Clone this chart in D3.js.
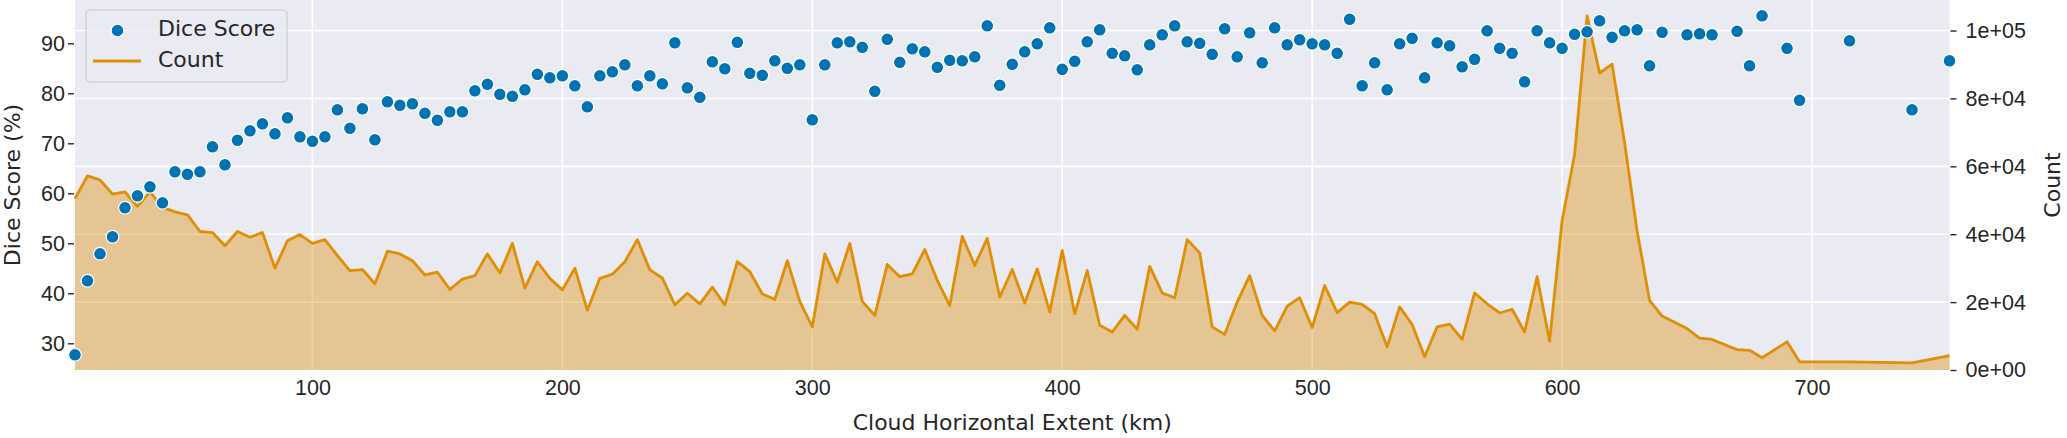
<!DOCTYPE html>
<html><head><meta charset="utf-8">
<script src="https://cdn.jsdelivr.net/npm/d3@7"></script>
<style>
html,body{margin:0;padding:0;background:#fff;}
svg{display:block;font-family:"DejaVu Sans",sans-serif;}
</style></head>
<body>
<svg id="chart" width="2067" height="438"></svg>
<script>
const extentKm = [5,10,15,20,25,30,35,40,45,50,55,60,65,70,75,80,85,90,95,100,
105,110,115,120,125,130,135,140,145,150,155,160,165,170,175,180,185,190,195,200,
205,210,215,220,225,230,235,240,245,250,255,260,265,270,275,280,285,290,295,300,
305,310,315,320,325,330,335,340,345,350,355,360,365,370,375,380,385,390,395,400,
405,410,415,420,425,430,435,440,445,450,455,460,465,470,475,480,485,490,495,500,
505,510,515,520,525,530,535,540,545,550,555,560,565,570,575,580,585,590,595,600,
605,610,615,620,625,630,635,640,650,655,660,670,675,680,690,695,715,740,755];

const diceScore = [27.7,42.5,47.9,51.3,57.1,59.5,61.3,58.1,64.3,63.8,64.3,69.3,65.7,70.6,72.5,73.9,71.9,75.1,71.3,70.4,
71.3,76.7,73.0,76.9,70.7,78.3,77.6,77.9,76.0,74.6,76.3,76.3,80.5,81.8,79.8,79.4,80.7,83.8,83.1,83.5,
81.5,77.3,83.5,84.3,85.7,81.5,83.5,81.9,90.1,81.1,79.2,86.3,84.9,90.2,84.0,83.6,86.5,85.0,85.7,74.7,
85.7,90.1,90.3,89.2,80.4,90.8,86.2,88.9,88.3,85.2,86.6,86.5,87.3,93.5,81.6,85.8,88.3,89.9,93.1,84.8,
86.4,90.3,92.7,88.0,87.5,84.7,89.7,91.7,93.5,90.3,90.0,87.8,92.9,87.3,92.1,86.1,93.1,89.7,90.7,89.9,
89.7,88.0,94.8,81.5,86.1,80.7,89.9,91.0,83.1,90.1,89.5,85.3,86.8,92.5,89.0,88.0,82.3,92.5,90.1,89.0,
91.8,92.3,94.5,91.2,92.5,92.7,85.5,92.2,91.7,91.9,91.7,92.4,85.5,95.5,89.0,78.6,90.5,76.7,86.5];

const pixelCount = [50500,57200,56000,51800,52500,48200,52500,47900,46600,45700,40800,40500,36600,40800,39100,40500,30000,38100,39900,37300,
38400,33700,29300,29600,25400,35000,34200,32200,28000,28800,23700,26800,27800,34200,28600,37300,24100,31900,27000,23600,
30000,17600,27000,28200,31900,38400,29500,27100,19200,22600,19500,24400,19200,31900,29000,22400,20800,32200,20200,12700,
34200,25900,37300,20200,16100,31100,27500,28300,35500,26400,19000,39400,30800,38800,21500,29600,19700,29800,17100,35200,
16600,29300,13200,11200,16100,12000,30500,22700,21300,38400,34500,12700,10500,20000,27800,16100,11500,18800,21300,12500,
24900,16900,20000,19300,16600,6800,18600,13400,3900,12700,13500,9000,22700,19500,16800,17900,11200,27500,8500,44000,
63500,104300,87500,90100,67000,41000,20500,15900,12200,9400,9000,6000,5800,3600,8300,2400,2400,2100,4200];

const xTicks = [100,200,300,400,500,600,700];
const diceTicks = [30,40,50,60,70,80,90];
const countTicks = [0,20000,40000,60000,80000,100000];
const countTickLabels = ["0e+00","2e+04","4e+04","6e+04","8e+04","1e+05"];

const data = extentKm.map((x,i)=>({x, dice: diceScore[i], count: pixelCount[i]}));

const L = 75, R = 1949.5, T = 0, B = 370;
const BLUE = "#0173B2", ORANGE = "#DE8F05", TXT = "#262626";

const svg = d3.select("#chart");
const x = d3.scaleLinear().domain([5,755]).range([L,R]);
const yL = d3.scaleLinear().domain([24.66,98.66]).range([B,T]);
const yR = d3.scaleLinear().domain([0,109000]).range([B,T]);

svg.append("rect").attr("x",L).attr("y",T).attr("width",R-L).attr("height",B-T).attr("fill","#EAEAF2");

// grid: vertical from x ticks, horizontal from right axis ticks
const grid = svg.append("g");
grid.selectAll("line.v").data(xTicks).join("line")
  .attr("x1",d=>x(d)).attr("x2",d=>x(d)).attr("y1",T).attr("y2",B)
  .attr("stroke","#fff").attr("stroke-width",1.6);
grid.selectAll("line.h").data(countTicks.filter(d=>d>0)).join("line")
  .attr("x1",L).attr("x2",R).attr("y1",d=>yR(d)).attr("y2",d=>yR(d))
  .attr("stroke","#fff").attr("stroke-width",1.6);

// count area + line
const area = d3.area().x(d=>x(d.x)).y0(yR(0)).y1(d=>yR(d.count));
const line = d3.line().x(d=>x(d.x)).y(d=>yR(d.count));
svg.append("path").datum(data).attr("d",area).attr("fill",ORANGE).attr("fill-opacity",0.4);
svg.append("path").datum(data).attr("d",line).attr("fill","none").attr("stroke",ORANGE)
  .attr("stroke-width",2.8).attr("stroke-linejoin","round");

// dice points
svg.append("g").selectAll("circle").data(data).join("circle")
  .attr("cx",d=>x(d.x)).attr("cy",d=>yL(d.dice)).attr("r",6.4)
  .attr("fill",BLUE).attr("stroke","#fff").attr("stroke-width",1.2);

// axes
const fontTick = "21.5px";
const ax = svg.append("g").attr("transform",`translate(0,${B})`)
  .call(d3.axisBottom(x).tickValues(xTicks).tickSize(0).tickPadding(10).tickFormat(d3.format("d")));
ax.select(".domain").remove();
ax.selectAll("text").attr("fill",TXT).style("font-size",fontTick).attr("dy","0.71em");

const ayL = svg.append("g").attr("transform",`translate(${L-1},0)`)
  .call(d3.axisLeft(yL).tickValues(diceTicks).tickSize(6).tickPadding(3).tickFormat(d3.format("d")));
ayL.select(".domain").remove();
ayL.selectAll("line").attr("stroke",TXT).attr("stroke-width",1.4);
ayL.selectAll("text").attr("fill",TXT).style("font-size",fontTick);

const ayR = svg.append("g").attr("transform",`translate(${R+1},0)`)
  .call(d3.axisRight(yR).tickValues(countTicks).tickSize(6).tickPadding(9).tickFormat((d,i)=>countTickLabels[i]));
ayR.select(".domain").remove();
ayR.selectAll("line").attr("stroke",TXT).attr("stroke-width",1.4);
ayR.selectAll("text").attr("fill",TXT).style("font-size",fontTick);

// axis labels
svg.append("text").attr("x",(L+R)/2).attr("y",424).attr("text-anchor","middle")
  .attr("dominant-baseline","middle").attr("fill",TXT).style("font-size","22px")
  .text("Cloud Horizontal Extent (km)");
svg.append("text").attr("transform",`translate(14,${(T+B)/2}) rotate(-90)`).attr("text-anchor","middle")
  .attr("dominant-baseline","middle").attr("fill",TXT).style("font-size","22px").text("Dice Score (%)");
svg.append("text").attr("transform",`translate(2054,${(T+B)/2}) rotate(-90)`).attr("text-anchor","middle")
  .attr("dominant-baseline","middle").attr("fill",TXT).style("font-size","22px").text("Count");

// legend
const lg = svg.append("g");
lg.append("rect").attr("x",86).attr("y",10).attr("width",201).attr("height",72).attr("rx",4)
  .attr("fill","#EAEAF2").attr("fill-opacity",0.8).attr("stroke","#CCCCCC").attr("stroke-width",1.2);
lg.append("circle").attr("cx",117.5).attr("cy",30.5).attr("r",6.4).attr("fill",BLUE).attr("stroke","#fff").attr("stroke-width",1.2);
lg.append("line").attr("x1",93).attr("x2",141).attr("y1",61).attr("y2",61).attr("stroke",ORANGE).attr("stroke-width",2.8);
lg.append("text").attr("x",158).attr("y",30).attr("dominant-baseline","middle").attr("fill",TXT).style("font-size","22px").text("Dice Score");
lg.append("text").attr("x",158).attr("y",61).attr("dominant-baseline","middle").attr("fill",TXT).style("font-size","22px").text("Count");
</script>
</body></html>
